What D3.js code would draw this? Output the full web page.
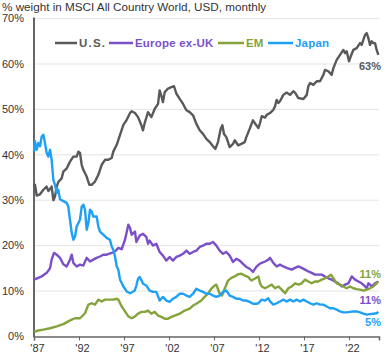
<!DOCTYPE html>
<html><head><meta charset="utf-8">
<script src="https://cdn.jsdelivr.net/npm/d3@7"></script>
<style>
html,body{margin:0;padding:0;background:#fff;}
svg{display:block;font-family:"Liberation Sans",Arial,sans-serif;}
</style></head>
<body><svg id="c" width="386" height="356"></svg>
<script>
const title = "% weight in MSCI All Country World, USD, monthly";
const seriesNames = ["U.S.", "Europe ex-UK", "EM", "Japan"];
const seriesColors = ["#58595b", "#7b4fc8", "#84a33b", "#1fa0f5"];
const yTicks = [0, 10, 20, 30, 40, 50, 60, 70];
const xTickYears = [1987, 1992, 1997, 2002, 2007, 2012, 2017, 2022];
const endLabels = ["63%", "11%", "11%", "5%"];

const usData = [[1987.0,33.0],[1987.11,33.4],[1987.3,31.0],[1987.67,31.3],[1988.04,32.3],[1988.4,33.0],[1988.6,32.0],[1988.96,33.0],[1989.15,30.0],[1989.33,30.8],[1989.52,33.0],[1989.7,34.0],[1990.07,34.8],[1990.26,36.3],[1990.63,37.0],[1991.0,38.5],[1991.37,39.6],[1991.74,39.6],[1991.93,40.7],[1992.11,40.4],[1992.3,37.8],[1992.48,36.7],[1992.85,35.2],[1993.15,33.4],[1993.4,33.4],[1993.78,34.1],[1994.15,35.6],[1994.52,37.8],[1994.89,38.9],[1995.26,38.9],[1995.63,39.3],[1995.81,40.7],[1996.19,42.2],[1996.56,44.4],[1996.93,46.6],[1997.3,47.7],[1997.67,49.2],[1997.85,49.6],[1998.22,49.2],[1998.56,48.3],[1998.93,46.5],[1999.11,45.4],[1999.3,47.0],[1999.67,49.4],[2000.04,48.3],[2000.41,50.1],[2000.78,51.2],[2000.96,54.2],[2001.15,53.0],[2001.33,51.6],[2001.52,53.8],[2001.89,54.6],[2002.26,54.9],[2002.56,55.1],[2002.81,53.5],[2003.19,52.3],[2003.56,51.2],[2003.93,49.8],[2004.3,49.4],[2004.67,48.7],[2005.04,46.8],[2005.41,45.4],[2005.78,44.6],[2006.15,43.5],[2006.52,42.8],[2006.89,41.9],[2007.15,41.3],[2007.44,42.8],[2007.74,45.7],[2007.93,46.5],[2008.11,44.6],[2008.37,43.9],[2008.74,41.7],[2009.11,42.4],[2009.3,43.2],[2009.67,42.1],[2010.04,42.4],[2010.41,42.8],[2010.59,43.9],[2010.96,45.7],[2011.33,47.6],[2011.7,46.5],[2011.93,45.9],[2012.11,47.0],[2012.3,48.5],[2012.67,48.2],[2012.85,48.8],[2013.22,49.2],[2013.59,49.9],[2013.78,50.7],[2013.96,52.1],[2014.15,51.4],[2014.33,51.8],[2014.7,53.2],[2015.07,53.7],[2015.44,53.2],[2015.81,54.0],[2016.0,53.7],[2016.37,52.5],[2016.93,52.3],[2017.3,53.2],[2017.48,55.1],[2017.67,55.8],[2018.04,55.4],[2018.41,56.2],[2018.78,56.2],[2019.15,57.6],[2019.33,58.7],[2019.7,58.4],[2020.07,57.6],[2020.26,59.1],[2020.63,60.9],[2021.0,62.0],[2021.37,63.1],[2021.56,62.4],[2021.74,62.8],[2022.0,60.6],[2022.19,61.7],[2022.48,63.1],[2022.85,63.5],[2023.22,64.6],[2023.41,64.2],[2023.59,65.3],[2023.78,66.4],[2023.96,66.8],[2024.15,65.7],[2024.33,64.2],[2024.52,65.0],[2024.7,64.6],[2024.89,64.6],[2025.07,63.1],[2025.26,62.0]];

const europeData = [[1987.0,12.5],[1987.48,12.9],[1987.85,13.2],[1988.41,14.0],[1988.78,15.0],[1988.96,16.9],[1989.22,18.4],[1989.52,18.0],[1989.89,17.3],[1990.26,15.9],[1990.63,15.4],[1991.0,16.9],[1991.19,18.0],[1991.37,16.2],[1991.74,15.4],[1992.11,15.8],[1992.48,15.6],[1992.85,17.3],[1993.22,16.5],[1993.59,16.9],[1993.96,17.3],[1994.33,17.6],[1994.7,18.0],[1995.07,18.0],[1995.63,18.4],[1996.0,18.7],[1996.37,19.5],[1996.74,19.2],[1997.11,21.3],[1997.48,24.6],[1997.67,23.9],[1997.85,22.4],[1998.22,23.1],[1998.37,20.8],[1998.74,22.2],[1999.11,22.6],[1999.48,21.9],[1999.67,20.4],[1999.85,21.1],[2000.22,20.0],[2000.59,20.4],[2000.96,18.6],[2001.33,17.8],[2001.7,16.7],[2002.07,17.5],[2002.44,16.7],[2002.81,17.5],[2003.19,17.8],[2003.56,18.2],[2003.93,18.9],[2004.3,18.2],[2004.67,18.6],[2005.04,18.9],[2005.41,19.7],[2005.78,20.0],[2006.15,20.4],[2006.52,20.4],[2006.89,20.8],[2007.26,20.0],[2007.63,18.9],[2008.0,18.2],[2008.37,18.6],[2008.74,17.8],[2009.11,16.4],[2009.48,17.1],[2009.85,16.7],[2010.22,16.0],[2010.59,15.3],[2010.96,14.9],[2011.33,14.2],[2011.7,15.3],[2012.07,16.0],[2012.3,16.2],[2012.67,16.5],[2013.04,16.9],[2013.22,17.3],[2013.59,16.2],[2013.96,15.4],[2014.33,15.8],[2014.7,15.4],[2015.07,15.1],[2015.63,14.7],[2016.0,15.1],[2016.37,15.4],[2016.74,15.1],[2017.11,14.7],[2017.48,14.3],[2017.85,14.0],[2018.22,13.6],[2018.59,13.6],[2018.96,13.6],[2019.33,13.2],[2019.7,12.8],[2020.07,12.5],[2020.44,12.1],[2020.81,11.7],[2021.19,11.0],[2021.56,11.4],[2021.93,11.7],[2022.3,13.2],[2022.67,12.5],[2023.04,12.1],[2023.41,11.7],[2023.78,11.0],[2023.96,10.6],[2024.15,11.7],[2024.33,11.4],[2024.52,11.0],[2024.89,11.7],[2025.26,12.1]];

const emData = [[1987.0,1.0],[1987.48,1.3],[1988.04,1.5],[1988.78,1.8],[1989.52,2.2],[1990.26,2.7],[1990.81,3.3],[1991.19,3.7],[1991.56,4.0],[1992.11,4.0],[1992.67,5.1],[1993.04,7.0],[1993.41,7.3],[1993.78,7.0],[1994.15,8.1],[1994.52,7.7],[1994.89,8.1],[1995.44,8.1],[1995.81,8.1],[1996.19,8.3],[1996.37,8.1],[1996.74,6.6],[1997.11,5.5],[1997.48,4.4],[1997.85,4.0],[1998.22,4.4],[1998.56,5.0],[1998.93,5.4],[1999.3,5.4],[1999.67,5.7],[2000.04,5.0],[2000.41,5.4],[2000.78,4.6],[2001.15,4.3],[2001.52,3.9],[2001.89,3.9],[2002.26,4.3],[2002.63,4.6],[2003.19,5.0],[2003.74,5.7],[2004.3,6.1],[2004.67,6.8],[2005.04,7.2],[2005.59,7.9],[2005.96,8.7],[2006.33,9.4],[2006.7,10.5],[2007.07,11.2],[2007.26,11.4],[2007.63,9.4],[2007.89,9.0],[2008.19,10.5],[2008.56,12.3],[2008.93,12.9],[2009.3,13.2],[2009.67,13.7],[2010.04,13.8],[2010.41,13.4],[2010.78,13.1],[2011.15,12.3],[2011.52,12.7],[2011.93,13.2],[2012.11,11.7],[2012.3,11.0],[2012.67,10.6],[2013.04,11.0],[2013.41,11.4],[2013.78,10.6],[2014.15,11.0],[2014.52,10.3],[2014.89,9.5],[2015.26,10.6],[2015.63,11.0],[2016.0,11.7],[2016.37,11.4],[2016.74,11.7],[2017.11,12.5],[2017.48,12.1],[2017.85,11.7],[2018.22,12.1],[2018.59,12.1],[2018.96,12.5],[2019.33,12.8],[2019.7,13.2],[2020.0,13.6],[2020.26,12.8],[2020.63,11.7],[2021.0,11.4],[2021.37,11.0],[2021.74,10.6],[2022.11,11.0],[2022.48,10.6],[2022.85,10.4],[2023.22,10.3],[2023.59,10.1],[2023.96,10.3],[2024.33,10.6],[2024.7,11.0],[2025.07,11.7],[2025.26,12.1]];

const japanData = [[1987.0,40.7],[1987.11,43.0],[1987.3,41.1],[1987.48,42.6],[1987.67,41.9],[1987.85,44.0],[1988.04,44.4],[1988.22,42.6],[1988.41,40.4],[1988.59,39.6],[1988.78,41.1],[1988.96,38.9],[1989.15,34.5],[1989.33,33.4],[1989.52,31.6],[1989.7,32.3],[1989.89,30.2],[1990.26,29.8],[1990.63,29.4],[1990.81,28.6],[1991.0,25.7],[1991.19,22.8],[1991.37,21.3],[1991.56,22.0],[1991.74,24.2],[1992.11,25.7],[1992.3,28.6],[1992.48,29.0],[1992.67,27.9],[1992.85,23.5],[1993.04,25.0],[1993.22,27.9],[1993.41,27.5],[1993.59,26.4],[1993.96,26.4],[1994.15,24.2],[1994.33,23.1],[1994.7,22.4],[1995.07,21.7],[1995.44,21.3],[1995.63,19.8],[1995.81,19.1],[1996.0,17.6],[1996.19,15.4],[1996.37,14.7],[1996.56,12.5],[1996.93,11.0],[1997.3,9.9],[1997.67,9.5],[1998.04,9.9],[1998.19,10.1],[1998.37,11.2],[1998.56,12.7],[1998.74,13.1],[1998.93,12.4],[1999.11,11.6],[1999.48,11.2],[1999.85,10.1],[2000.22,9.8],[2000.59,9.8],[2000.96,7.9],[2001.33,8.7],[2001.7,7.9],[2002.07,7.6],[2002.44,8.3],[2002.81,8.7],[2003.19,9.4],[2003.56,9.4],[2003.93,9.0],[2004.3,8.7],[2004.67,9.4],[2005.04,10.5],[2005.41,10.1],[2005.78,9.8],[2006.15,9.4],[2006.52,9.4],[2006.89,9.0],[2007.26,8.7],[2007.63,9.0],[2008.0,9.8],[2008.37,10.1],[2008.74,9.0],[2009.11,8.7],[2009.48,8.3],[2009.85,8.3],[2010.22,7.9],[2010.59,7.9],[2010.96,7.6],[2011.33,7.2],[2011.7,7.2],[2011.93,7.3],[2012.3,8.1],[2012.67,7.9],[2013.04,8.4],[2013.22,7.7],[2013.59,7.0],[2013.96,7.3],[2014.33,7.7],[2014.7,8.1],[2015.07,7.7],[2015.44,8.1],[2015.81,7.7],[2016.19,8.1],[2016.56,7.7],[2016.93,8.1],[2017.3,7.7],[2017.67,7.3],[2018.04,7.0],[2018.41,7.3],[2018.78,7.0],[2019.15,7.0],[2019.52,6.6],[2019.89,6.2],[2020.26,6.2],[2020.63,5.9],[2021.0,5.5],[2021.37,5.3],[2021.74,5.3],[2022.11,5.4],[2022.48,5.5],[2022.85,5.5],[2023.22,5.3],[2023.59,5.0],[2023.96,4.8],[2024.33,4.9],[2024.7,5.0],[2025.07,5.1],[2025.26,5.4]];

const allSeries = [usData, europeData, emData, japanData];

(function draw(){
const svg = d3.select("#c");
const mLeft = 34, mRight = 379, mTop = 18.6, mBottom = 336.4;
const x = d3.scaleLinear().domain([1987, 2025.33]).range([mLeft, mRight]);
const y = d3.scaleLinear().domain([0, 70]).range([mBottom, mTop]);

svg.append("rect").attr("width",386).attr("height",356).attr("fill","#fff");

svg.append("text").attr("x",2).attr("y",11).attr("font-size","11.7px").attr("fill","#333").text(title);

svg.append("g").selectAll("line").data(yTicks.filter(d=>d>0)).join("line")
  .attr("x1",mLeft).attr("x2",mRight).attr("y1",d=>y(d)).attr("y2",d=>y(d))
  .attr("stroke","#e4e4e4").attr("stroke-width",1);

svg.append("g").selectAll("text").data(yTicks).join("text")
  .attr("x",24).attr("y",d=>y(d)).attr("dy","0.35em").attr("text-anchor","end")
  .attr("font-size","11px").attr("fill","#333").text(d=>d+"%");

const xAxis = d3.axisBottom(x).tickValues(xTickYears).tickSize(4).tickFormat("");
const gx = svg.append("g").attr("transform",`translate(0,${mBottom})`).call(xAxis);
gx.select(".domain").attr("stroke","#666").attr("stroke-width",1.5);
gx.selectAll(".tick line").attr("stroke","#666");
svg.append("g").selectAll("text").data(xTickYears).join("text")
  .attr("x",d=>x(d)+3.5).attr("y",352).attr("text-anchor","middle")
  .attr("font-size","11px").attr("fill","#333").text(d=>"'"+String(d).slice(2));

svg.append("line").attr("x1",mLeft).attr("x2",mLeft).attr("y1",mTop-1).attr("y2",mBottom+0.75)
  .attr("stroke","#666").attr("stroke-width",2);

const line = d3.line().x(d=>x(d[0])).y(d=>y(d[1])).curve(d3.curveLinear);
svg.append("g").selectAll("path").data(allSeries).join("path")
  .attr("d",line).attr("fill","none")
  .attr("stroke",(d,i)=>seriesColors[i]).attr("stroke-width",2.4)
  .attr("stroke-linejoin","round");

const legendX = [55, 109, 218, 268];
const legendW = [22, 24, 26, 25];
const lg = svg.append("g");
seriesNames.forEach((n,i)=>{
  lg.append("line").attr("x1",legendX[i]).attr("x2",legendX[i]+legendW[i]).attr("y1",43).attr("y2",43)
    .attr("stroke",seriesColors[i]).attr("stroke-width",2.5);
  lg.append("text").attr("x",legendX[i]+legendW[i]+2).attr("y",43).attr("dy","0.35em")
    .attr("font-size","11.5px").attr("font-weight","bold").attr("fill",seriesColors[i])
    .attr("letter-spacing", i===0 ? "1.2px" : "0.2px").text(n);
});

// end labels: US, Europe (below EM), EM (above), Japan
const endY = [66, 300, 273.7, 322.5];
svg.append("g").selectAll("text").data(endLabels).join("text")
  .attr("x",381).attr("y",(d,i)=>endY[i]).attr("dy","0.35em").attr("text-anchor","end")
  .attr("font-size","11px").attr("font-weight","bold").attr("fill",(d,i)=>seriesColors[i]).text(d=>d);
})();
</script></body></html>
